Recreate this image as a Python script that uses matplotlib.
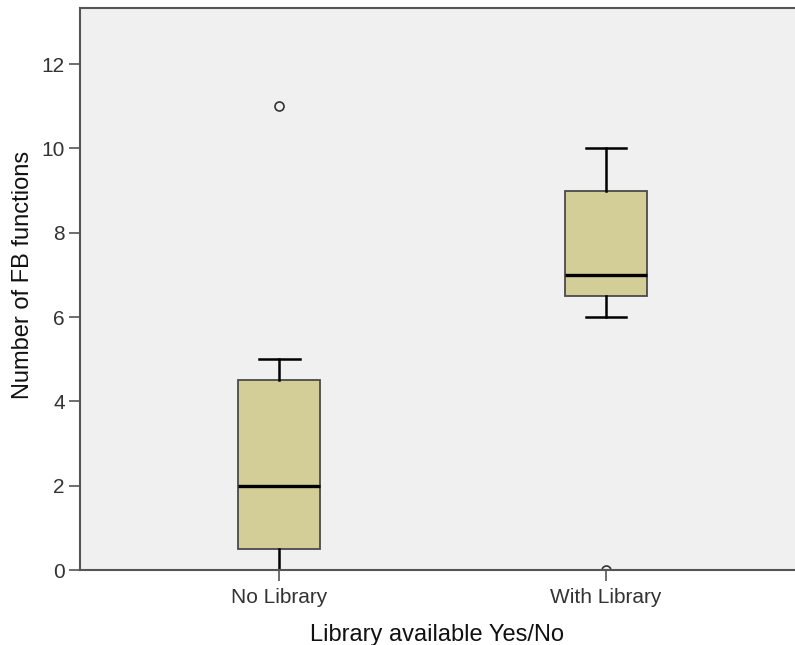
import matplotlib.pyplot as plt

plt.rcParams['font.family'] = ['Liberation Sans', 'DejaVu Sans']

# --- data ---
categories = ["No Library", "With Library"]
whisker_low = [0, 6]
q1 = [0.5, 6.5]
median = [2, 7]
q3 = [4.5, 9]
whisker_high = [5, 10]
outliers = [[11], [0]]

stats = []
for i, name in enumerate(categories):
    stats.append({
        'label': name,
        'whislo': whisker_low[i],
        'q1': q1[i],
        'med': median[i],
        'q3': q3[i],
        'whishi': whisker_high[i],
        'fliers': outliers[i],
    })

fig = plt.figure(figsize=(7.95, 6.45), dpi=100)
ax = fig.add_axes([80 / 795, 75 / 645, 715 / 795, 562 / 645])
ax.set_facecolor('#f0f0f0')

ax.bxp(stats, positions=[1, 2], widths=0.25, patch_artist=True,
       boxprops=dict(facecolor='#d3ce98', edgecolor='#4a4a4a', linewidth=1.3),
       medianprops=dict(color='black', linewidth=2.4),
       whiskerprops=dict(color='black', linewidth=1.8),
       capprops=dict(color='black', linewidth=1.8),
       capwidths=0.125,
       flierprops=dict(marker='o', markersize=6.5, markerfacecolor='#f0f0f0',
                       markeredgecolor='#333333', markeredgewidth=1.2))

ax.set_xlim(0.391, 2.578)
ax.set_ylim(0, 13.33)
ax.set_yticks([0, 2, 4, 6, 8, 10, 12])
ax.set_xticks([1, 2])
ax.set_xticklabels(categories)

for side in ['left', 'bottom', 'top']:
    ax.spines[side].set_color('#555555')
    ax.spines[side].set_linewidth(1.5)
ax.spines['right'].set_visible(False)

ax.tick_params(axis='both', colors='#555555', labelcolor='#333333',
               labelsize=15, length=8, width=1.2, pad=3)
ax.tick_params(axis='x', pad=5)

ax.set_xlabel("Library available Yes/No", fontsize=17, color='#111111', labelpad=12)
ax.set_ylabel("Number of FB functions", fontsize=17, color='#111111')
ax.yaxis.set_label_coords(-0.064, 0.525)

fig.savefig('out.png', dpi=100)
